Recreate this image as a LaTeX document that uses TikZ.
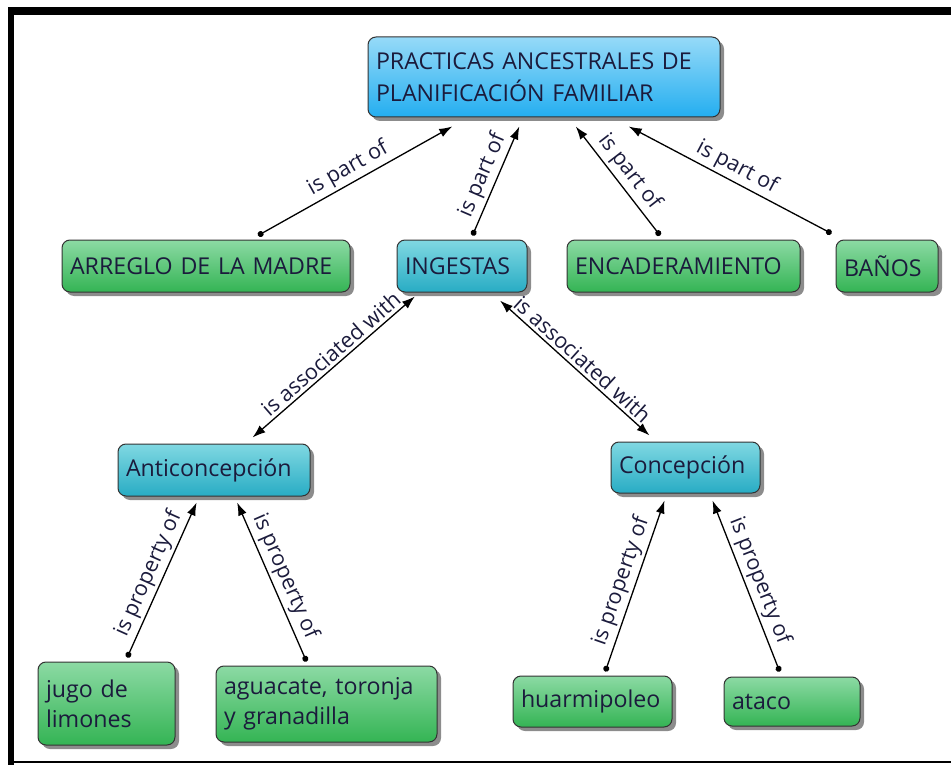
\documentclass[tikz,border=0pt]{standalone}
\usepackage{fontspec}
\setmainfont{Open Sans}
\usetikzlibrary{shadows,arrows.meta,calc}
\definecolor{txt}{HTML}{1B1B3C}
\definecolor{gtop}{RGB}{140,218,164}
\definecolor{gbot}{RGB}{52,180,84}
\definecolor{ttop}{RGB}{128,216,226}
\definecolor{tbot}{RGB}{40,172,196}
\definecolor{btop}{RGB}{150,218,248}
\definecolor{bbot}{RGB}{36,174,240}
\begin{document}
\begin{tikzpicture}[x=1pt,y=-1pt,
  box/.style={draw=black!80, line width=1pt, rounded corners=8pt, align=left,
    inner xsep=8pt, inner ysep=4pt, text=txt, font=\fontsize{23.2}{30}\selectfont,
    general shadow={fill=black!75, shadow xshift=4pt, shadow yshift=-4pt, opacity=0.6}},
  gbox/.style={box, top color=gtop, bottom color=gbot},
  tbox/.style={box, top color=ttop, bottom color=tbot},
  bbox/.style={box, top color=btop, bottom color=bbot},
  conn/.style={line width=1.3pt, {Circle[length=6pt]}-{Latex[length=13pt,width=9pt]}},
  dconn/.style={line width=1.3pt, {Latex[length=13pt,width=9pt]}-{Latex[length=13pt,width=9pt]}},
  lbl/.style={sloped, above, inner sep=3pt, text=txt, font=\fontsize{21.5}{24}\selectfont}
]
\useasboundingbox (0,0) rectangle (951,765);
% frame
\fill[black] (8,7) rectangle (951,15);
\fill[black] (8,7) rectangle (14,765);
\fill[black] (8,761) rectangle (951,763);

% nodes
\node[bbox, text width=336pt, minimum height=80pt, font=\fontsize{23.2}{32}\selectfont] (top) at (544,77)
  {PRACTICAS ANCESTRALES DE\\PLANIFICACIÓN FAMILIAR};
\node[gbox, text width=272pt, minimum height=52pt] (arr) at (206,266) {ARREGLO DE LA MADRE};
\node[tbox, text width=114pt, minimum height=52pt] (ing) at (462,266) {INGESTAS};
\node[gbox, text width=217pt, minimum height=52pt] (enc) at (683.5,266) {ENCADERAMIENTO};
\node[gbox, text width=86pt, minimum height=52pt] (ban) at (887,266) {BAÑOS};
\node[tbox, text width=176pt, minimum height=52pt] (ant) at (214,470) {Anticoncepción};
\node[tbox, text width=133pt, minimum height=51pt] (con) at (685.5,467.5) {Concepción};
\node[gbox, text width=121pt, minimum height=83pt] (jug) at (106.5,703.5) {jugo de\\limones};
\node[gbox, text width=205pt, minimum height=76pt] (agu) at (326.5,704) {aguacate, toronja\\y granadilla};
\node[gbox, text width=143pt, minimum height=51pt] (hua) at (592.5,701.5) {huarmipoleo};
\node[gbox, text width=120pt, minimum height=49pt] (ata) at (792,701.5) {ataco};

% connectors to top
\draw[conn] ($(arr.north west)!0.68!(arr.north east)+(0,-4)$) -- node[lbl]{is part of} ($(top.south west)!0.24!(top.south east)+(0,9)$);
\draw[conn] ($(ing.north west)!0.58!(ing.north east)+(0,-4)$) -- node[lbl]{is part of} ($(top.south west)!0.43!(top.south east)+(0,9)$);
\draw[conn] ($(enc.north west)!0.40!(enc.north east)+(0,-4)$) -- node[lbl]{is part of} ($(top.south west)!0.59!(top.south east)+(0,9)$);
\draw[conn] ($(ban.north west)+(-4,-6)$) -- node[lbl]{is part of} ($(top.south west)!0.74!(top.south east)+(0,9)$);

% ingestas to children
\draw[dconn] ($(ing.south west)!0.14!(ing.south east)+(0,4)$) -- node[lbl, pos=0.47]{is associated with} ($(ant.north west)!0.70!(ant.north east)+(0,-6)$);
\draw[dconn] ($(ing.south west)!0.79!(ing.south east)+(0,8)$) -- node[lbl, pos=0.5]{is associated with} ($(con.north west)!0.26!(con.north east)+(0,-6)$);

% properties
\draw[conn] ($(jug.north west)!0.65!(jug.north east)+(0,-4)$) -- node[lbl]{is property of} ($(ant.south west)!0.41!(ant.south east)+(0,6)$);
\draw[conn] ($(agu.north west)!0.41!(agu.north east)+(0,-4)$) -- node[lbl]{is property of} ($(ant.south west)!0.62!(ant.south east)+(0,6)$);
\draw[conn] ($(hua.north west)!0.58!(hua.north east)+(0,-4)$) -- node[lbl]{is property of} ($(con.south west)!0.36!(con.south east)+(0,7)$);
\draw[conn] ($(ata.north west)!0.41!(ata.north east)+(0,-5)$) -- node[lbl]{is property of} ($(con.south west)!0.68!(con.south east)+(0,7)$);
\end{tikzpicture}
\end{document}
